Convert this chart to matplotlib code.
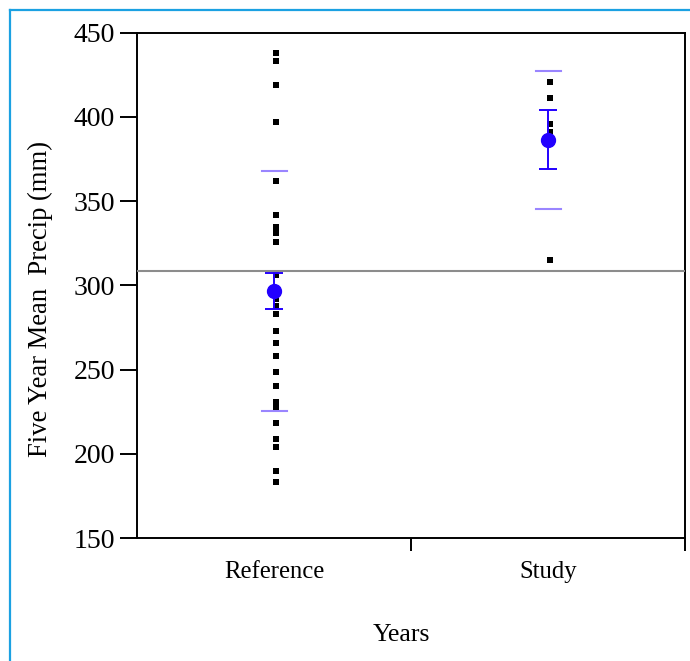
import matplotlib
matplotlib.use("Agg")
import matplotlib.pyplot as plt
from matplotlib.lines import Line2D
import numpy as np

# ---- data ----
categories = ["Reference", "Study"]
reference_values = [438, 433, 419, 397, 362, 341.5, 334.5, 331, 325.5, 306,
                    297, 292, 287.5, 283, 273, 266, 258, 248.5, 240, 231,
                    228, 218, 209, 204, 190, 183]
study_values = [420.5, 411, 395.6, 390.8, 314.8]
group_means = [296.6, 386.5]
group_se = [10.9, 17.4]
group_sd = [71.1, 41.0]
grand_mean = 308.3
y_ticks = [150, 200, 250, 300, 350, 400, 450]

plt.rcParams['font.family'] = ['Liberation Serif', 'DejaVu Serif']

W, H = 690, 661
fig = plt.figure(figsize=(W / 100, H / 100), dpi=100)
ax = fig.add_axes([137 / W, 1 - 538 / H, 548 / W, 505.3 / H])

blue = '#2200ff'
sd_col = '#9a85ff'

# grand mean line (drawn above the error bars, as in the reference)
ax.axhline(grand_mean, color='#8c8c8c', lw=1.5, zorder=5)

# raw points
groups = [reference_values, study_values]
for i, vals in enumerate(groups):
    ax.plot(np.full(len(vals), i + 0.008), vals, 's', color='black',
            markersize=4.2, markeredgewidth=0, zorder=3)

# SD lines
for i, (m, sd) in enumerate(zip(group_means, group_sd)):
    for v in (m - sd, m + sd):
        ax.plot([i - 0.042, i + 0.048], [v, v], color=sd_col, lw=1.5, zorder=2)

# mean + SE error bars
ax.errorbar(range(len(categories)), group_means, yerr=group_se, fmt='o',
            color=blue, ecolor=blue, elinewidth=1.4, capsize=6.5, capthick=1.4,
            markersize=10, zorder=4)

ax.set_xlim(-0.5, 1.5)
ax.set_ylim(150, 450)
ax.set_yticks(y_ticks)
ax.set_xticks([0.5, 1.5])
ax.set_xticklabels([])
ax.set_xticks([0, 1], minor=True)
ax.set_xticklabels(categories, minor=True)

for s in ax.spines.values():
    s.set_linewidth(1.4)
    s.set_color('black')

ax.tick_params(axis='y', direction='out', length=12.2, width=1.4,
               labelsize=20, pad=3.5)
ax.tick_params(axis='x', which='major', direction='out', length=9.4, width=1.4)
ax.tick_params(axis='x', which='minor', length=0, labelsize=17.8, pad=16.5)

fig.text(40 / W, 1 - 299 / H, "Five Year Mean  Precip (mm)", rotation=90,
         ha='center', va='center', fontsize=19.2)
fig.text(401 / W, 1 - 635 / H, "Years", ha='center', va='center', fontsize=18.5)

# blue frame (left and top edges)
frame_col = '#1ba1e2'
fig.add_artist(Line2D([10 / W, 10 / W], [0, 1 - 10 / H], transform=fig.transFigure,
                      color=frame_col, lw=1.6))
fig.add_artist(Line2D([10 / W, 1], [1 - 10 / H, 1 - 10 / H], transform=fig.transFigure,
                      color=frame_col, lw=1.6))

fig.savefig("out.png", dpi=100)
